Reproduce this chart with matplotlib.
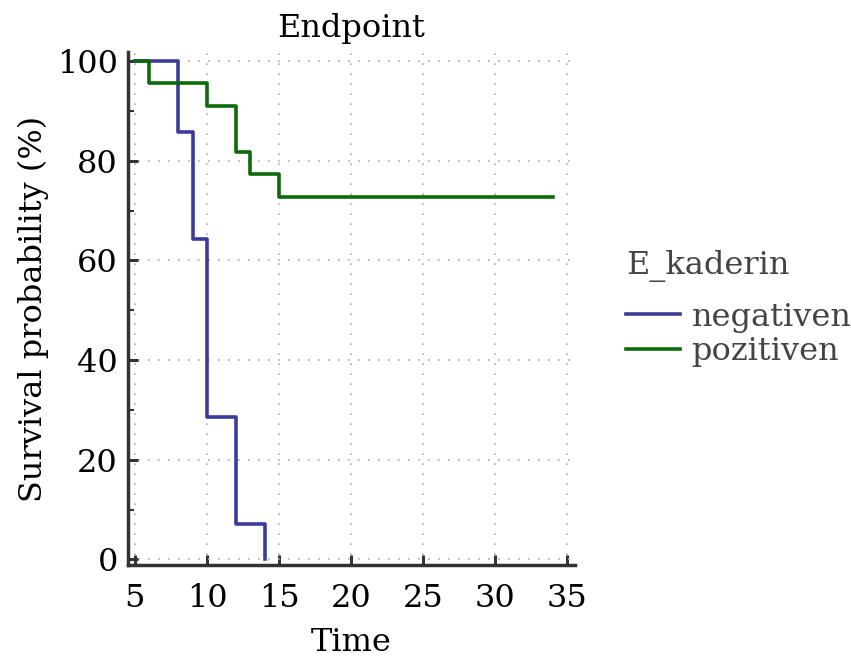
import numpy as np
import matplotlib.pyplot as plt
from matplotlib.ticker import MultipleLocator

# Kaplan-Meier steps
neg_time = [5, 8, 9, 10, 12, 14]
neg_surv = [100, 85.7, 64.3, 28.6, 7.1, 0]
neg_end = 14

pos_time = [5, 6, 10, 12, 13, 15]
pos_surv = [100, 95.5, 90.9, 81.8, 77.3, 72.7]
pos_end = 34

labels = ['negativen', 'pozitiven']
colors = ['#3b3b9c', '#0b6b0b']

plt.rcParams['font.family'] = ['DejaVu Serif']
FS = 23

fig = plt.figure(figsize=(8.51, 6.59), dpi=100, facecolor='white')
ax = fig.add_axes([0.150, 0.142, 0.526, 0.779])

for t, s, end, lab, c in [(neg_time, neg_surv, neg_end, labels[0], colors[0]),
                          (pos_time, pos_surv, pos_end, labels[1], colors[1])]:
    tt = list(t) + [end]
    ss = list(s) + [s[-1]]
    ax.step(tt, ss, where='post', color=c, lw=2.6, label=lab)

ax.set_xlim(4.5, 35.55)
ax.set_ylim(-1.2, 101.8)
ax.xaxis.set_major_locator(MultipleLocator(5))
ax.yaxis.set_major_locator(MultipleLocator(20))
ax.yaxis.set_minor_locator(MultipleLocator(10))
ax.grid(True, which='major', color='#aaaaaa', linestyle=(0, (1, 5)), lw=1.2)

for side in ['top', 'right']:
    ax.spines[side].set_visible(False)
for side in ['left', 'bottom']:
    ax.spines[side].set_color('#333333')
    ax.spines[side].set_linewidth(2.5)

ax.tick_params(which='major', direction='in', length=7, width=2.2, color='#333333',
               labelsize=FS, pad=7)
ax.tick_params(axis='x', which='major', pad=13)
ax.tick_params(which='minor', direction='in', length=4, width=1.5, color='#333333')

ax.set_xlabel('Time', fontsize=FS, labelpad=9)
ax.set_ylabel('Survival probability (%)', fontsize=FS, labelpad=6)
ax.set_title('Endpoint', fontsize=FS, pad=11)

leg = ax.legend(title='E_kaderin', loc='center left', bbox_to_anchor=(1.085, 0.5),
                frameon=False, fontsize=FS, title_fontsize=FS, handlelength=1.7,
                handletextpad=0.35, labelspacing=0.12, borderaxespad=0)
leg._legend_box.align = 'left'
leg._legend_box.sep = 14
leg.get_title().set_color('#444444')
for txt in leg.get_texts():
    txt.set_color('#444444')

fig.savefig('out.png', dpi=100, facecolor='white')
